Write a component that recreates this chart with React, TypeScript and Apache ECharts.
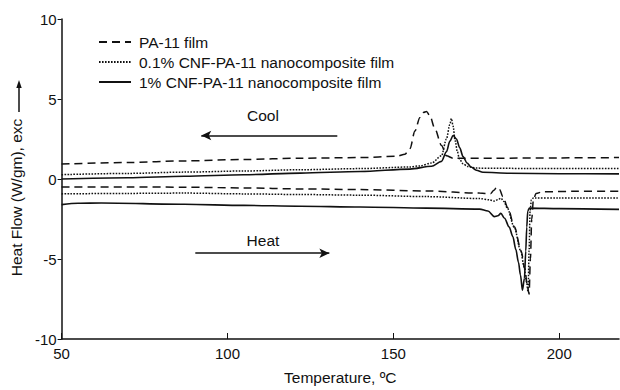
import React, { useEffect, useRef } from "react";
import * as echarts from "echarts";

const seriesNames = [
  "PA-11 film",
  "0.1% CNF-PA-11 nanocomposite film",
  "1% CNF-PA-11 nanocomposite film",
];

const xTicks = [50, 100, 150, 200];

// Cooling curves (upper)
const pa11CoolX = [50, 70, 87, 105, 122, 140, 151, 153.5, 155, 156.5, 158, 159, 160, 161, 162.5, 164.5, 166, 168, 180, 200, 218];
const pa11CoolY = [0.93, 1.03, 1.13, 1.22, 1.3, 1.34, 1.42, 1.55, 1.9, 3.0, 3.85, 4.15, 4.22, 3.95, 3.15, 2.1, 1.45, 1.3, 1.3, 1.32, 1.34];

const cnf01CoolX = [50, 70, 87, 105, 122, 140, 155, 158, 161.5, 164.5, 166, 167, 167.5, 168, 168.6, 169.3, 169.9, 171, 172.4, 175, 190, 218];
const cnf01CoolY = [0.27, 0.35, 0.43, 0.5, 0.58, 0.65, 0.75, 0.82, 1.0, 1.45, 2.5, 3.4, 3.78, 3.3, 2.4, 1.7, 1.25, 0.95, 0.78, 0.68, 0.66, 0.65];

const cnf1CoolX = [50, 70, 87, 105, 122, 140, 155, 161.5, 164.5, 166, 167, 168, 169, 170, 171, 172.2, 173.4, 175, 177, 185, 200, 218];
const cnf1CoolY = [0.0, 0.08, 0.17, 0.27, 0.37, 0.47, 0.62, 0.8, 1.1, 1.7, 2.35, 2.72, 2.5, 1.95, 1.4, 1.0, 0.75, 0.55, 0.42, 0.36, 0.33, 0.32];

// Heating curves (lower)
const pa11HeatX = [50, 70, 87, 105, 122, 140, 160, 176, 179.3, 180.3, 181.2, 182, 183, 184.5, 186.5, 188.5, 189.6, 190.4, 190.9, 191.3, 191.7, 192.2, 193, 195, 205, 218];
const pa11HeatY = [-0.5, -0.5, -0.51, -0.56, -0.62, -0.66, -0.75, -0.88, -0.92, -0.7, -0.5, -0.65, -1.1, -1.8, -3.0, -4.5, -5.6, -6.7, -7.2, -5.0, -2.5, -1.3, -0.9, -0.8, -0.77, -0.76];

const cnf01HeatX = [50, 70, 87, 105, 122, 140, 160, 176, 179, 180.4, 181.4, 182.4, 183.3, 184.3, 186.4, 188.4, 189.4, 190.1, 190.6, 190.9, 191.2, 191.6, 192.2, 200, 218];
const cnf01HeatY = [-0.93, -0.9, -0.88, -0.93, -0.97, -1.01, -1.1, -1.22, -1.3, -1.38, -1.3, -1.2, -1.4, -1.8, -3.0, -4.5, -5.5, -6.4, -7.05, -4.5, -2.0, -1.3, -1.18, -1.18, -1.18];

const cnf1HeatX = [50, 55, 62, 87, 105, 122, 140, 160, 176, 178.5, 180.4, 181.5, 182.4, 183.5, 184.9, 186, 186.9, 187.7, 188.3, 188.9, 189.5, 189.9, 190.2, 190.5, 191, 200, 218];
const cnf1HeatY = [-1.6, -1.52, -1.5, -1.58, -1.65, -1.7, -1.75, -1.82, -1.88, -2.0, -2.35, -2.3, -2.15, -2.45, -3.0, -3.6, -4.4, -5.2, -6.0, -6.95, -6.2, -4.5, -3.0, -2.0, -1.82, -1.85, -1.9];

// Annotations (data coordinates)
const coolArrow = { from: 133.1, to: 92.1, y: 2.72 };
const heatArrow = { from: 90.3, to: 130.7, y: -4.64 };
const coolLabel = { x: 110.7, y: 3.96, text: "Cool" };
const heatLabel = { x: 110.7, y: -3.84, text: "Heat" };

const INK = "#111";
const FONT = "Liberation Sans, Arial, sans-serif";

function makeLine(name: string, xs: number[], ys: number[], type: any, width: number) {
  return {
    type: "line",
    name,
    data: xs.map((x, i) => [x, ys[i]]),
    symbol: "none",
    smooth: 0.3,
    smoothMonotone: "x",
    lineStyle: { color: INK, width, type },
    itemStyle: { color: INK },
    z: 3,
  };
}

export default function App() {
  const ref = useRef<HTMLDivElement>(null);
  useEffect(() => {
    if (!ref.current) return;
    const chart = echarts.init(ref.current, null, { renderer: "svg" });
    const dashed = [8, 5];
    const dotted = [1.6, 1.4];
    const s1 = makeLine(seriesNames[0], pa11CoolX, pa11CoolY, dashed, 1.5);
    const s2 = makeLine(seriesNames[1], cnf01CoolX, cnf01CoolY, dotted, 1.5);
    const s3 = makeLine(seriesNames[2], cnf1CoolX, cnf1CoolY, "solid", 1.6);
    const s4 = makeLine(seriesNames[0], pa11HeatX, pa11HeatY, dashed, 1.5);
    const s5 = makeLine(seriesNames[1], cnf01HeatX, cnf01HeatY, dotted, 1.5);
    const s6 = makeLine(seriesNames[2], cnf1HeatX, cnf1HeatY, "solid", 1.6);
    (s3 as any).markLine = {
      silent: true,
      animation: false,
      symbol: "none",
      lineStyle: { type: "solid", color: INK, width: 1.5 },
      label: { show: false },
      data: [
        [
          { coord: [coolArrow.to, coolArrow.y], symbol: "arrow", symbolSize: [7, 10] },
          { coord: [coolArrow.from, coolArrow.y], symbol: "none" },
        ],
        [
          { coord: [heatArrow.from, heatArrow.y], symbol: "none" },
          { coord: [heatArrow.to, heatArrow.y], symbol: "arrow", symbolSize: [7, 10] },
        ],
      ],
    };
    (s3 as any).markPoint = {
      silent: true,
      animation: false,
      symbol: "circle",
      symbolSize: 1,
      itemStyle: { color: "transparent" },
      label: {
        show: true,
        position: "inside",
        color: INK,
        fontSize: 15.5,
        fontFamily: FONT,
        formatter: (p: any) => p.name,
      },
      data: [
        { name: coolLabel.text, coord: [coolLabel.x, coolLabel.y] },
        { name: heatLabel.text, coord: [heatLabel.x, heatLabel.y] },
      ],
    };

    chart.setOption({
      animation: false,
      backgroundColor: "#fff",
      textStyle: { fontFamily: FONT, color: INK },
      grid: { left: 57, right: 1, top: 19, bottom: 48, containLabel: false },
      legend: {
        data: seriesNames,
        orient: "vertical",
        left: 93,
        top: 29,
        itemWidth: 32,
        itemHeight: 14,
        itemGap: 4,
        selectedMode: false,
        itemStyle: { opacity: 0, borderWidth: 0 },
        textStyle: { fontSize: 15.5, color: INK, fontFamily: FONT, padding: [0, 0, 0, 3] },
      },
      xAxis: {
        type: "value",
        min: 50,
        max: 218,
        interval: 50,
        name: "Temperature, ºC",
        nameLocation: "middle",
        nameGap: 30,
        nameTextStyle: { fontSize: 15.5, color: INK, fontFamily: FONT },
        axisLine: { show: true, onZero: false, lineStyle: { color: INK, width: 1.5 } },
        axisTick: { show: true, inside: true, length: 6, customValues: xTicks, lineStyle: { color: INK, width: 1 } },
        axisLabel: {
          customValues: xTicks,
          fontSize: 15,
          color: INK,
          margin: 7,
          fontFamily: FONT,
          formatter: (v: number) => (xTicks.includes(v) ? String(v) : ""),
        },
        splitLine: { show: false },
      },
      yAxis: {
        type: "value",
        min: -10,
        max: 10,
        interval: 5,
        name: "Heat Flow (W/gm), exc",
        nameLocation: "middle",
        nameGap: 30,
        nameTextStyle: { fontSize: 15.5, color: INK, fontFamily: FONT, padding: [0, 37, 0, 0] },
        axisLine: { show: true, onZero: false, lineStyle: { color: INK, width: 1.5 } },
        axisTick: { show: true, inside: false, length: 4, lineStyle: { color: INK, width: 1 } },
        axisLabel: { fontSize: 15, color: INK, margin: 5, fontFamily: FONT },
        splitLine: { show: false },
      },
      graphic: [
        {
          type: "group",
          silent: true,
          children: [
            { type: "line", shape: { x1: 19, y1: 112, x2: 19, y2: 86 }, style: { stroke: INK, lineWidth: 1.5 } },
            { type: "polygon", shape: { points: [[19, 80], [16.3, 88], [21.7, 88]] }, style: { fill: INK } },
          ],
        },
      ],
      series: [s1, s2, s3, s4, s5, s6],
    });
    return () => chart.dispose();
  }, []);
  return (
    <div
      ref={ref}
      style={{ position: "absolute", left: 0, top: 0, width: 620, height: 390, background: "#fff" }}
    />
  );
}
